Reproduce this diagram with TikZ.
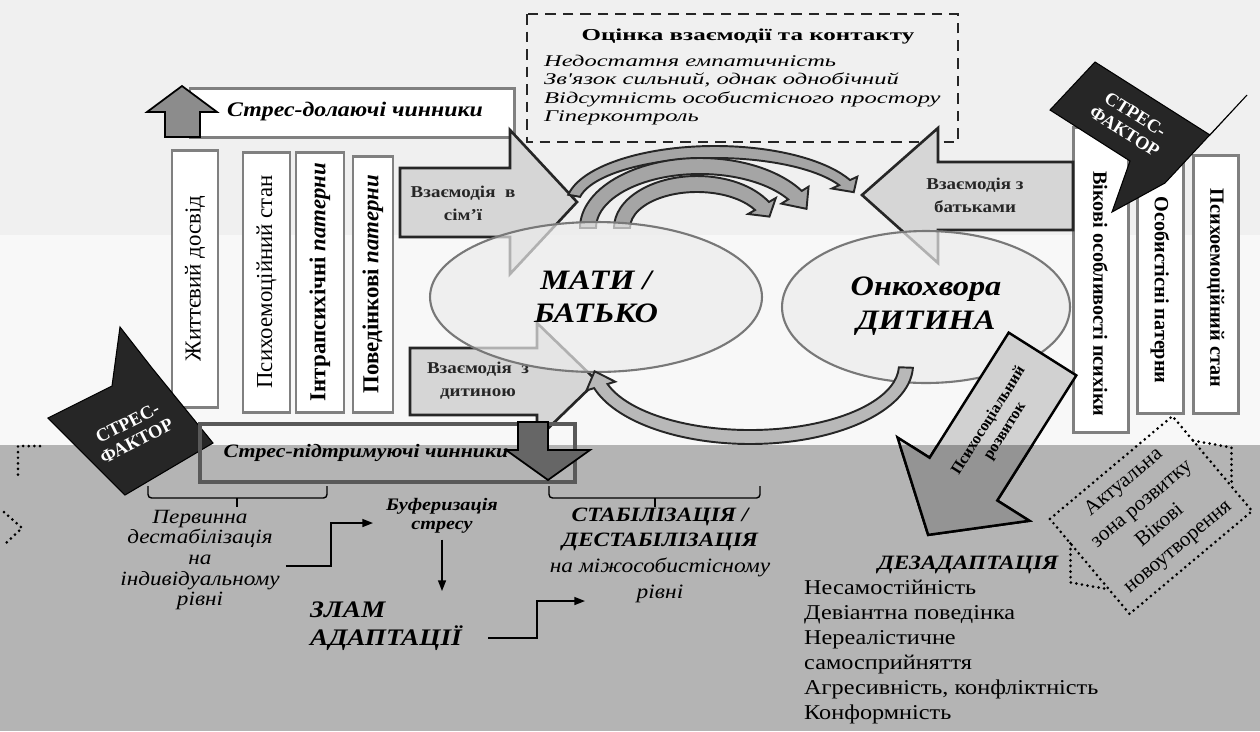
\documentclass[tikz,border=0pt]{standalone}
\usepackage{fontspec}
\setmainfont{Liberation Serif}[FakeStretch=1.15]
\newfontfamily\widefont{Liberation Serif}[FakeStretch=1.5]
\newfontfamily\rotfont{Liberation Serif}
\usetikzlibrary{arrows.meta,calc,shapes.geometric}
\definecolor{bandtop}{RGB}{240,240,240}
\definecolor{bandmid}{RGB}{248,248,248}
\definecolor{bandlow}{RGB}{180,180,180}
\definecolor{barline}{RGB}{128,128,128}
\definecolor{blockfill}{RGB}{214,214,214}
\definecolor{darkfill}{RGB}{38,38,38}
\definecolor{arcgray}{RGB}{165,165,165}
\definecolor{ellline}{RGB}{120,120,120}
\definecolor{ellfill}{RGB}{236,236,236}

% thick bent arrow: cx, cy, rx, ry, start, end, tip angle, half width, style
\newcommand\arcarrow[9]{%
  \pgfmathsetmacro\aAx{#1+(#3+#8)*cos(#5)}\pgfmathsetmacro\aAy{#2+(#4+#8)*sin(#5)}
  \pgfmathsetmacro\aBx{#1+(#3+#8+8)*cos(#6)}\pgfmathsetmacro\aBy{#2+(#4+#8+8)*sin(#6)}
  \pgfmathsetmacro\aTx{#1+#3*cos(#6+#7)}\pgfmathsetmacro\aTy{#2+#4*sin(#6+#7)}
  \pgfmathsetmacro\aCx{#1+(#3-#8-8)*cos(#6)}\pgfmathsetmacro\aCy{#2+(#4-#8-8)*sin(#6)}
  \pgfmathsetmacro\aDx{#1+(#3-#8)*cos(#6)}\pgfmathsetmacro\aDy{#2+(#4-#8)*sin(#6)}
  \pgfmathsetmacro\rxo{#3+#8}\pgfmathsetmacro\ryo{#4+#8}
  \pgfmathsetmacro\rxi{#3-#8}\pgfmathsetmacro\ryi{#4-#8}
  \filldraw[#9] (\aAx,\aAy) arc[start angle=#5, end angle=#6, x radius=\rxo, y radius=\ryo]
    -- (\aBx,\aBy) -- (\aTx,\aTy) -- (\aCx,\aCy) -- (\aDx,\aDy)
    arc[start angle=#6, end angle=#5, x radius=\rxi, y radius=\ryi] -- cycle;
}

\begin{document}
\begin{tikzpicture}[x=0.02cm, y=-0.02cm,
    bar/.style={draw=barline, line width=1.7pt, fill=white},
    lbartext/.style={font=\rotfont\fontsize{13}{13}\selectfont, rotate=90, inner sep=0pt},
    rbartext/.style={font=\rotfont\bfseries\fontsize{11.5}{12}\selectfont, rotate=-90, inner sep=0pt},
    block/.style={draw=black!85, line width=1.5pt, fill=blockfill, line join=miter},
    blocktext/.style={font=\bfseries\fontsize{9.4}{13}\selectfont, align=center, text=black!85},
    dashbox/.style={draw=black!85, line width=1.6pt, dash pattern=on 6pt off 4pt},
    bendarrow/.style={draw=black!85, line width=1.1pt, fill=arcgray},
    stressbox/.style={fill=darkfill, draw=black, line width=0.6pt},
    stresstext/.style={text=white, font=\rotfont\bfseries\fontsize{10.5}{11.5}\selectfont, align=center},
    bigtext/.style={font=\bfseries\itshape\fontsize{16}{19}\selectfont, align=center},
    flow/.style={-{Triangle[length=6pt,width=4.5pt]}, line width=0.8pt},
    dotline/.style={line width=1.7pt, dash pattern=on 0pt off 3.2pt, line cap=round}
  ]
  \useasboundingbox (0,0) rectangle (1260,731);
  \fill[bandtop] (0,0) rectangle (1260,235);
  \fill[bandmid] (0,235) rectangle (1260,445);
  \fill[bandlow] (0,445) rectangle (1260,731);

  % interaction assessment
  \draw[dashbox] (527,14) rectangle (958,142);
  \node[font=\widefont\bfseries\fontsize{9.5}{11}\selectfont] (evaltitle) at (748,37) {Оцінка взаємодії та контакту};
  \node[anchor=west, align=left, font=\widefont\itshape\fontsize{9.3}{10.6}\selectfont] (evallist) at (538,90)
    {Недостатня емпатичність\\Зв'язок сильний, однак однобічний\\Відсутність особистісного простору\\Гіперконтроль};

  % coping factors
  \draw[barline, line width=1.7pt, fill=white] (190,88) rectangle (514,137);
  \draw[line width=1pt, fill=black!45] (182,86) -- (217,112) -- (200,112) -- (200,137)
    -- (165,137) -- (165,112) -- (147,112) -- cycle;
  \node[font=\bfseries\itshape\fontsize{11.8}{13}\selectfont] (coping) at (355,112) {Стрес-долаючі чинники};

  % parent bars
  \foreach \xl/\xr/\yt/\yb/\lbl [count=\i] in {172/218/150/407/{Життєвий досвід},
      243/290/152/412/{Психоемоційний стан},
      296/344/152/412/{\textbf{Інтрапсихічні \textit{патерни}}},
      353/393/156/412/{\textbf{Поведінкові \textit{патерни}}}} {
    \draw[bar] (\xl,\yt) rectangle (\xr,\yb);
    \node[lbartext] (lbar\i) at ({(\xl+\xr)/2},{(\yt+\yb)/2}) {\lbl};
  }
  % child bars
  \foreach \xl/\xr/\yt/\yb/\ym/\lbl [count=\i] in {1073/1128/127/432/294/{Вікові особливості психіки},
      1137/1183/140/413/290/{Особистісні патерни},
      1193/1238/155/413/288/{Психоемоційний стан}} {
    \draw[bar] (\xl,\yt) rectangle (\xr,\yb);
    \node[rbartext] (rbar\i) at ({(\xl+\xr)/2},\ym) {\lbl};
  }

  % interaction arrows
  \draw[block] (400,168) -- (510,168) -- (510,130) -- (577,202) -- (510,274) -- (510,237) -- (400,237) -- cycle;
  \node[blocktext] (family) at (463,203) {Взаємодія~~в\\сім’ї};
  \draw[block] (410,348) -- (537,348) -- (537,323) -- (597,381) -- (537,439) -- (537,415) -- (410,415) -- cycle;
  \node[blocktext] (withchild) at (478,381) {Взаємодія~~з\\дитиною};
  \draw[block] (1073,162) -- (938,162) -- (938,128) -- (862,195) -- (938,263) -- (938,230) -- (1073,230) -- cycle;
  \node[blocktext] (withparents) at (975,195) {Взаємодія з\\батьками};

  % bent arrows between the two sides
  \arcarrow{715}{205}{143}{53}{190}{335}{11}{6}{bendarrow}
  \arcarrow{700}{228}{112}{62}{180}{328}{14}{8}{bendarrow}
  \arcarrow{697}{228}{75}{44}{180}{330}{15}{8}{bendarrow}

  % parent and child
  \node[ellipse, draw=ellline, line width=1.2pt, fill=ellfill, fill opacity=0.7,
    minimum width=6.64cm, minimum height=3cm, inner sep=0pt] (mother) at (596,297) {};
  \node[ellipse, draw=ellline, line width=1.2pt, fill=ellfill, fill opacity=0.7,
    minimum width=5.76cm, minimum height=3.04cm, inner sep=0pt] (child) at (926,307) {};
  \node[bigtext] (mothertext) at (596,297) {МАТИ /\\БАТЬКО};
  \node[bigtext] (childtext) at (926,306) {Онкохвора\\ДИТИНА};
  \arcarrow{750}{365}{156}{72}{2}{163}{12}{7}{bendarrow, fill=black!28}

  % psychosocial development
  \begin{scope}[shift={(1042.5,354)}, rotate=-122.3]
    \filldraw[draw=black, line width=1.4pt, fill=black!18]
      (0,-40) -- (148,-40) -- (148,-78) -- (214,0) -- (148,78) -- (148,40) -- (0,40) -- cycle;
  \end{scope}
  \begin{scope}
    \clip (0,445) rectangle (1260,731);
    \begin{scope}[shift={(1042.5,354)}, rotate=-122.3]
      \filldraw[draw=black, line width=1.4pt, fill=black!42]
        (0,-40) -- (148,-40) -- (148,-78) -- (214,0) -- (148,78) -- (148,40) -- (0,40) -- cycle;
    \end{scope}
  \end{scope}
  \node[font=\rotfont\bfseries\fontsize{9}{11}\selectfont, align=center, rotate=57.7] (psychosoc) at (997,426)
    {Психосоціальний\\розвиток};

  % stress factors
  \filldraw[stressbox] (1050,110) -- (1095,62) -- (1210,135) -- (1247,95) -- (1192,154) -- (1165,183)
    -- (1112,212) -- (1130,161) -- cycle;
  \node[stresstext, rotate=-32.4] (stressright) at (1130,123) {СТРЕС-\\ФАКТОР};
  \filldraw[stressbox] (48,418) -- (112,386) -- (120,327) -- (152,368) -- (213,443) -- (125,495) -- cycle;
  \node[stresstext, rotate=27] (stressleft) at (132,432) {СТРЕС-\\ФАКТОР};

  % supporting factors
  \draw[draw=black!65, line width=1.8pt] (200,424) rectangle (575,482);
  \node[font=\bfseries\itshape\fontsize{10.8}{13}\selectfont] (support) at (366,453) {Стрес-підтримуючі чинники};
  \draw[line width=1pt, fill=black!60] (518,422) -- (548,422) -- (548,450) -- (590,450) -- (548,480)
    -- (506,450) -- (518,450) -- cycle;

  % braces
  \draw[line width=0.8pt, rounded corners=2pt] (148,486) -- (148,498) -- (327,498) -- (327,486);
  \draw[line width=0.8pt] (237,498) -- (237,507);
  \draw[line width=0.8pt, rounded corners=2pt] (549,486) -- (549,498) -- (760,498) -- (760,486);
  \draw[line width=0.8pt] (655,498) -- (655,507);

  % course of adaptation
  \node[font=\itshape\fontsize{11.5}{11.7}\selectfont, align=center] (primary) at (200,560)
    {Первинна\\дестабілізація\\на\\індивідуальному\\рівні};
  \node[font=\bfseries\itshape\fontsize{10}{10.8}\selectfont, align=center] (buffer) at (442,516) {Буферизація\\стресу};
  \node[font=\bfseries\itshape\fontsize{13.5}{16}\selectfont, align=left, anchor=west] (zlam) at (304,626) {ЗЛАМ\\АДАПТАЦІЇ};
  \node[font=\itshape\fontsize{11.6}{14.6}\selectfont, align=center] (stab) at (660,555)
    {\textbf{СТАБІЛІЗАЦІЯ /}\\\textbf{ДЕСТАБІЛІЗАЦІЯ}\\на міжособистісному\\рівні};
  \coordinate (bufferin) at (373,523);
  \coordinate (stabin) at (585,601);
  \draw[flow] (primary.east |- 0,566) -- (331,566) |- (bufferin);
  \draw[flow] (buffer.south) -- (buffer.south |- 0,591);
  \draw[flow] (488,638) -- (537,638) |- (stabin);

  % development zone
  \begin{scope}[shift={(1151,515)}, rotate=40]
    \draw[dotline] (-80,-62) rectangle (80,62);
    \draw[dotline] (-80,-30) -- (-105,0) -- (-80,30);
    \draw[dotline] (80,-30) -- (105,0) -- (80,30);
    \node[font=\rotfont\fontsize{12}{16}\selectfont, align=center, rotate=40] (zone) at (0,0)
      {Актуальна\\зона розвитку\\Вікові\\новоутворення};
  \end{scope}
  \draw[dotline] (40,446) -- (18,446) -- (18,478);
  \draw[dotline] (4,512) -- (22,528) -- (4,545);

  % maladaptation
  \node[font=\bfseries\itshape\fontsize{11.6}{13}\selectfont] (desad) at (968,565) {ДЕЗАДАПТАЦІЯ};
  \node[font=\fontsize{12}{14.2}\selectfont, align=left, anchor=west] (desadlist) at (798,652)
    {Несамостійність\\Девіантна поведінка\\Нереалістичне\\самосприйняття\\Агресивність, конфліктність\\Конформність};
\end{tikzpicture}
\end{document}
